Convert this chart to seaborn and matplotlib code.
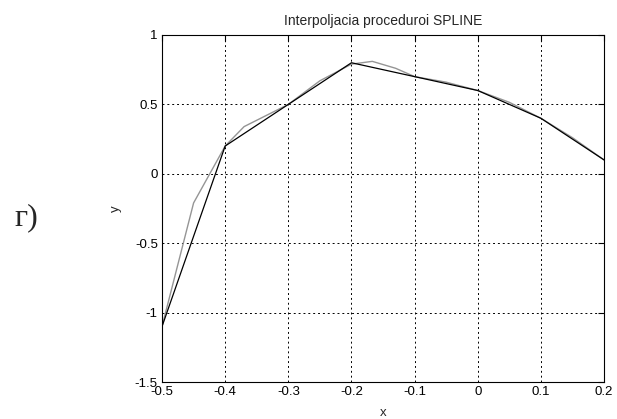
import matplotlib
matplotlib.use("Agg")
import matplotlib.pyplot as plt
import seaborn as sns
import pandas as pd

# data nodes (black polyline)
x_nodes = [-0.5, -0.4, -0.3, -0.2, -0.1, 0.0, 0.1, 0.2]
y_nodes = [-1.1, 0.2, 0.5, 0.8, 0.7, 0.6, 0.4, 0.1]

# spline curve (gray)
x_spline = [-0.5, -0.45, -0.4, -0.37, -0.3, -0.25, -0.2, -0.167, -0.13, -0.1,
            -0.05, 0.0, 0.05, 0.1, 0.15, 0.2]
y_spline = [-1.1, -0.21, 0.2, 0.34, 0.5, 0.67, 0.79, 0.81, 0.76, 0.70,
            0.66, 0.60, 0.515, 0.40, 0.26, 0.10]

x_ticks = [-0.5, -0.4, -0.3, -0.2, -0.1, 0.0, 0.1, 0.2]
x_ticklabels = ["-0.5", "-0.4", "-0.3", "-0.2", "-0.1", "0", "0.1", "0.2"]
y_ticks = [-1.5, -1.0, -0.5, 0.0, 0.5, 1.0]
y_ticklabels = ["-1.5", "-1", "-0.5", "0", "0.5", "1"]

title = "Interpoljacia proceduroi SPLINE"
panel_label = "г)"

sns.set_style("white")
plt.rcParams["font.family"] = ["Liberation Sans", "DejaVu Sans"]

fig = plt.figure(figsize=(6.17, 4.19), dpi=100)
ax = fig.add_axes([0.2626, 0.0883, 0.9790 - 0.2626, 0.9165 - 0.0883])

df_s = pd.DataFrame({"x": x_spline, "y": y_spline})
df_n = pd.DataFrame({"x": x_nodes, "y": y_nodes})
sns.lineplot(data=df_s, x="x", y="y", sort=False, color="#959595", lw=1.0, ax=ax)
sns.lineplot(data=df_n, x="x", y="y", sort=False, color="black", lw=0.9, ax=ax)

ax.set_xlim(-0.5, 0.2)
ax.set_ylim(-1.5, 1.0)
ax.set_xticks(x_ticks)
ax.set_xticklabels(x_ticklabels)
ax.set_yticks(y_ticks)
ax.set_yticklabels(y_ticklabels)
ax.tick_params(direction="in", length=4, width=0.8, colors="black",
               labelsize=9.5, top=True, right=True, pad=3)
ax.grid(True, color="black", linestyle=(0, (2, 3)), linewidth=0.7)
for s in ax.spines.values():
    s.set_color("black")
    s.set_linewidth(0.8)

ax.set_title(title, fontsize=10, pad=7)
ax.set_xlabel("x", fontsize=9.5, labelpad=6)
ax.set_ylabel("y", fontsize=9.5, labelpad=9)

fig.text(26 / 617, 1 - 218 / 419, panel_label, fontsize=23,
         family=["Liberation Serif", "DejaVu Serif"], ha="center", va="center")

fig.savefig("out.png", dpi=100, facecolor="white")
